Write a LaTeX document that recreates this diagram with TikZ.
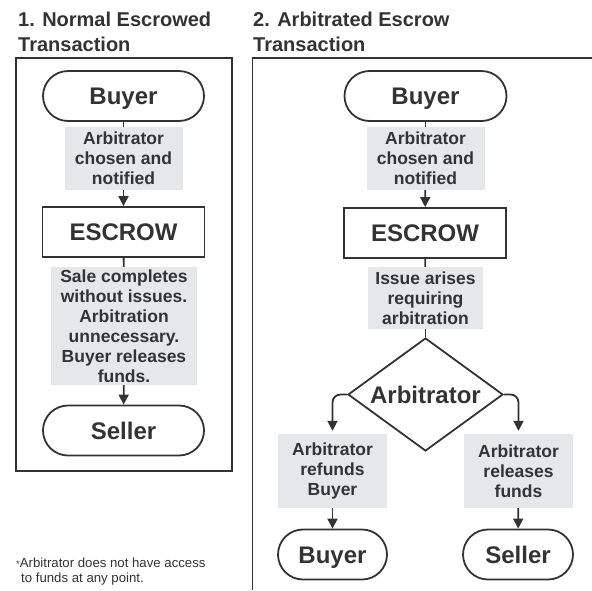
\documentclass[tikz,border=0pt]{standalone}
\usepackage{fontspec}
\setmainfont{Liberation Sans}
\usetikzlibrary{shapes}
\usetikzlibrary{arrows.meta}

\definecolor{inkgray}{HTML}{333333}
\definecolor{notegray}{HTML}{E6E7E8}

\begin{document}
\begin{tikzpicture}[x=1pt,y=-1pt]
			\tikzstyle{party}=[draw=inkgray,line width=1.8pt,rounded corners=25pt,minimum height=50pt,inner sep=0pt,text height=17.2pt,text depth=0pt,text=inkgray,font=\fontsize{24}{26}\selectfont\bfseries]
			\tikzstyle{escrowbox}=[draw=inkgray,line width=1.8pt,minimum width=162pt,minimum height=50pt,inner sep=0pt,text height=17.2pt,text depth=0pt,text=inkgray,font=\fontsize{24}{26}\selectfont\bfseries]
			\tikzstyle{note}=[fill=notegray,inner sep=0pt,align=center,text=inkgray,font=\fontsize{17.5}{20}\selectfont\bfseries]
			\tikzstyle{judge}=[diamond,draw=inkgray,line width=1.8pt,aspect=1.365,minimum width=155pt,minimum height=113pt,inner sep=0pt,text height=17.2pt,text depth=0pt,text=inkgray,font=\fontsize{24}{26}\selectfont\bfseries]
			\tikzstyle{flow}=[draw=inkgray,line width=1.8pt]
			\tikzstyle{flowarrow}=[flow,-{Triangle[width=10pt,length=10pt]}]
			\tikzstyle{frame}=[draw=inkgray,line width=1.8pt]
			\tikzstyle{title}=[anchor=north west,inner sep=0pt,align=left,text=inkgray,font=\fontsize{20}{25}\selectfont\bfseries]
			
			\useasboundingbox (0,0) rectangle (592,590);
			
			% titles and frames
			\node[title] (titleA) at (18,11.7) {1. Normal Escrowed\\Transaction};
			\node[title] (titleB) at (253,11.7) {2. Arbitrated Escrow\\Transaction};
			\draw[frame] (16,58) rectangle (232,471);
			\draw[frame] (592,58) -- (252.5,58) -- (252.5,590);
			
			% normal transaction
			\node[party,minimum width=161pt] (buyerA) at (123.5,96) {Buyer};
			\node[note,minimum width=118pt,minimum height=63pt] (chosenA) at (123.5,158.5) {Arbitrator\\chosen and\\notified};
			\node[escrowbox] (escrowA) at (123.5,232) {ESCROW};
			\node[note,minimum width=146pt,minimum height=118pt] (saleA) at (124,326) {Sale completes\\without issues.\\Arbitration\\unnecessary.\\Buyer releases\\funds.};
			\node[party,minimum width=161pt] (sellerA) at (123.5,430.5) {Seller};
			
			\draw[flow] (buyerA) -- (chosenA);
			\draw[flowarrow] (chosenA) -- (escrowA);
			\draw[flow] (escrowA) -- (saleA);
			\draw[flowarrow] (saleA) -- (sellerA);
			
			% arbitrated transaction
			\node[party,minimum width=162pt] (buyerB) at (425.5,96) {Buyer};
			\node[note,minimum width=118pt,minimum height=63pt] (chosenB) at (425.5,158.5) {Arbitrator\\chosen and\\notified};
			\node[escrowbox] (escrowB) at (425,233) {ESCROW};
			\node[note,minimum width=115pt,minimum height=62pt] (issueB) at (425.5,298) {Issue arises\\requiring\\arbitration};
			\node[judge] (judge) at (425.5,394.5) {Arbitrator};
			\node[note,minimum width=109pt,minimum height=74pt] (refund) at (332.5,471) {Arbitrator\\refunds\\Buyer};
			\node[note,minimum width=109pt,minimum height=74pt] (release) at (518.5,471) {Arbitrator\\releases\\funds};
			\node[party,minimum width=109pt] (buyerC) at (332.5,554.5) {Buyer};
			\node[party,minimum width=110pt] (sellerC) at (518,554.5) {Seller};
			
			\draw[flow] (buyerB) -- (chosenB);
			\draw[flowarrow] (chosenB) -- (escrowB);
			\draw[flow] (escrowB) -- (issueB);
			\draw[flow] (issueB) -- (judge.north);
			\draw[flowarrow,rounded corners=8pt,shorten >=3pt] (judge.west) -| (refund.north);
			\draw[flowarrow,rounded corners=8pt,shorten >=3pt] (judge.east) -| (release.north);
			\draw[flowarrow] (refund) -- (buyerC);
			\draw[flowarrow] (release) -- (sellerC);
			
			% footnote
			\node[anchor=north west,inner sep=0pt,align=left,text=inkgray,font=\fontsize{13.2}{15}\selectfont] (note) at (16,558) {{\fontsize{9.5}{9.5}\selectfont*}Arbitrator does not have access\\\hspace*{5pt}to funds at any point.};
\end{tikzpicture}
\end{document}
